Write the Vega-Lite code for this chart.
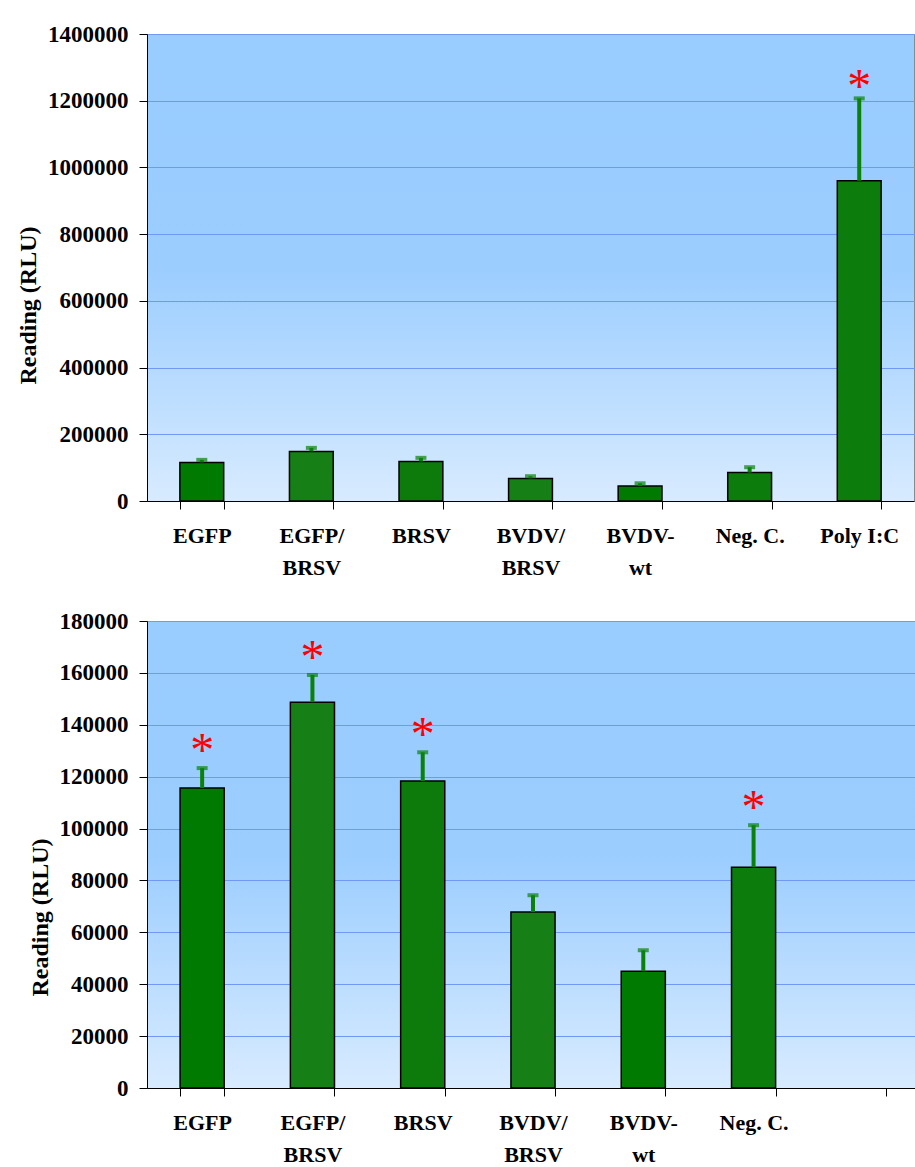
{
  "$schema": "https://vega.github.io/schema/vega-lite/v6.json",
  "background": "white",
  "padding": {"left": 16, "top": 22, "right": 0, "bottom": 0},
  "datasets": {
    "readings": [
      {"treatment": "EGFP", "reading": 115600, "upper": 123300, "starAll": false, "starVirus": true},
      {"treatment": "EGFP/BRSV", "reading": 148700, "upper": 159200, "starAll": false, "starVirus": true},
      {"treatment": "BRSV", "reading": 118300, "upper": 129400, "starAll": false, "starVirus": true},
      {"treatment": "BVDV/BRSV", "reading": 67800, "upper": 74300, "starAll": false, "starVirus": false},
      {"treatment": "BVDV-wt", "reading": 45000, "upper": 53100, "starAll": false, "starVirus": false},
      {"treatment": "Neg. C.", "reading": 85100, "upper": 101300, "starAll": false, "starVirus": true},
      {"treatment": "Poly I:C", "reading": 960000, "upper": 1207000, "starAll": true, "starVirus": false}
    ]
  },
  "config": {
    "font": "Liberation Serif",
    "view": {
      "stroke": "#8a8a8a",
      "strokeWidth": 1,
      "fill": {
        "gradient": "linear",
        "x1": 0, "y1": 0, "x2": 0, "y2": 1,
        "stops": [
          {"offset": 0, "color": "#99CCFF"},
          {"offset": 0.5, "color": "#9BCDFF"},
          {"offset": 1, "color": "#D8EBFF"}
        ]
      }
    },
    "axis": {
      "labelFont": "Liberation Serif",
      "labelFontWeight": "bold",
      "labelFontSize": 22,
      "labelColor": "black",
      "titleFont": "Liberation Serif",
      "titleFontWeight": "bold",
      "titleFontSize": 24,
      "titleColor": "black",
      "domainColor": "black",
      "domainWidth": 1,
      "tickColor": "black",
      "tickWidth": 1,
      "tickSize": 8,
      "gridColor": "#6F99F5",
      "gridWidth": 1,
      "gridOpacity": 1
    },
    "axisX": {
      "labelPadding": 16,
      "labelLineHeight": 32,
      "labelBaseline": "top",
      "tickBand": "extent",
      "grid": false,
      "title": null
    },
    "axisY": {
      "labelFontSize": 23,
      "labelPadding": 11,
      "titlePadding": 7,
      "format": "d"
    }
  },
  "vconcat": [
    {
      "width": 767,
      "height": 467,
      "data": {"name": "readings"},
      "encoding": {
        "x": {
          "field": "treatment",
          "type": "nominal",
          "sort": null,
          "scale": {
            "domain": ["EGFP", "EGFP/BRSV", "BRSV", "BVDV/BRSV", "BVDV-wt", "Neg. C.", "Poly I:C"],
            "paddingInner": 0.6,
            "paddingOuter": 0.3
          },
          "axis": {
            "labelAngle": 0,
            "labelExpr": "split(replace(replace(datum.label, '/', '/|'), '-', '-|'), '|')"
          }
        }
      },
      "layer": [
        {
          "mark": {"type": "bar", "stroke": "black", "strokeWidth": 1.5},
          "encoding": {
            "y": {
              "field": "reading",
              "type": "quantitative",
              "title": "Reading (RLU)",
              "scale": {"domain": [0, 1400000], "nice": false},
              "axis": {"values": [0, 200000, 400000, 600000, 800000, 1000000, 1200000, 1400000], "titleY": 271}
            },
            "color": {
              "field": "treatment",
              "type": "nominal",
              "legend": null,
              "scale": {
                "domain": ["EGFP", "EGFP/BRSV", "BRSV", "BVDV/BRSV", "BVDV-wt", "Neg. C.", "Poly I:C"],
                "range": ["#007A00", "#168016", "#0C7B0C", "#168016", "#007A00", "#0C7C0C", "#0C7C0C"]
              }
            }
          }
        },
        {
          "mark": {"type": "rule", "color": "#0A820A", "strokeWidth": 4},
          "encoding": {
            "y": {"field": "reading", "type": "quantitative", "title": "Reading (RLU)"},
            "y2": {"field": "upper"}
          }
        },
        {
          "mark": {"type": "tick", "color": "#0A820A", "thickness": 4, "size": 11},
          "encoding": {
            "y": {"field": "upper", "type": "quantitative", "title": "Reading (RLU)"}
          }
        },
        {
          "transform": [{"filter": "datum.starAll"}],
          "mark": {"type": "text", "text": "*", "color": "#FF0000", "fontSize": 48, "font": "Liberation Serif", "baseline": "alphabetic", "dy": 4},
          "encoding": {
            "y": {"field": "upper", "type": "quantitative", "title": "Reading (RLU)"}
          }
        }
      ]
    },
    {
      "width": 772,
      "height": 467,
      "data": {"name": "readings"},
      "transform": [{"filter": "datum.treatment !== 'Poly I:C'"}],
      "encoding": {
        "x": {
          "field": "treatment",
          "type": "nominal",
          "sort": null,
          "scale": {
            "domain": ["EGFP", "EGFP/BRSV", "BRSV", "BVDV/BRSV", "BVDV-wt", "Neg. C.", " "],
            "paddingInner": 0.6,
            "paddingOuter": 0.3
          },
          "axis": {
            "labelAngle": 0,
            "labelExpr": "split(replace(replace(datum.label, '/', '/|'), '-', '-|'), '|')"
          }
        }
      },
      "layer": [
        {
          "mark": {"type": "bar", "stroke": "black", "strokeWidth": 1.5},
          "encoding": {
            "y": {
              "field": "reading",
              "type": "quantitative",
              "title": "Reading (RLU)",
              "scale": {"domain": [0, 180000], "nice": false},
              "axis": {"values": [0, 20000, 40000, 60000, 80000, 100000, 120000, 140000, 160000, 180000], "titleY": 296}
            },
            "color": {
              "field": "treatment",
              "type": "nominal",
              "legend": null,
              "scale": {
                "domain": ["EGFP", "EGFP/BRSV", "BRSV", "BVDV/BRSV", "BVDV-wt", "Neg. C."],
                "range": ["#007A00", "#168016", "#0C7B0C", "#168016", "#007A00", "#0C7C0C"]
              }
            }
          }
        },
        {
          "mark": {"type": "rule", "color": "#0A820A", "strokeWidth": 4},
          "encoding": {
            "y": {"field": "reading", "type": "quantitative", "title": "Reading (RLU)"},
            "y2": {"field": "upper"}
          }
        },
        {
          "mark": {"type": "tick", "color": "#0A820A", "thickness": 4, "size": 11},
          "encoding": {
            "y": {"field": "upper", "type": "quantitative", "title": "Reading (RLU)"}
          }
        },
        {
          "transform": [{"filter": "datum.starVirus"}],
          "mark": {"type": "text", "text": "*", "color": "#FF0000", "fontSize": 48, "font": "Liberation Serif", "baseline": "alphabetic", "dy": -2},
          "encoding": {
            "y": {"field": "upper", "type": "quantitative", "title": "Reading (RLU)"}
          }
        }
      ]
    }
  ],
  "spacing": 30,
  "resolve": {"scale": {"color": "independent"}}
}
